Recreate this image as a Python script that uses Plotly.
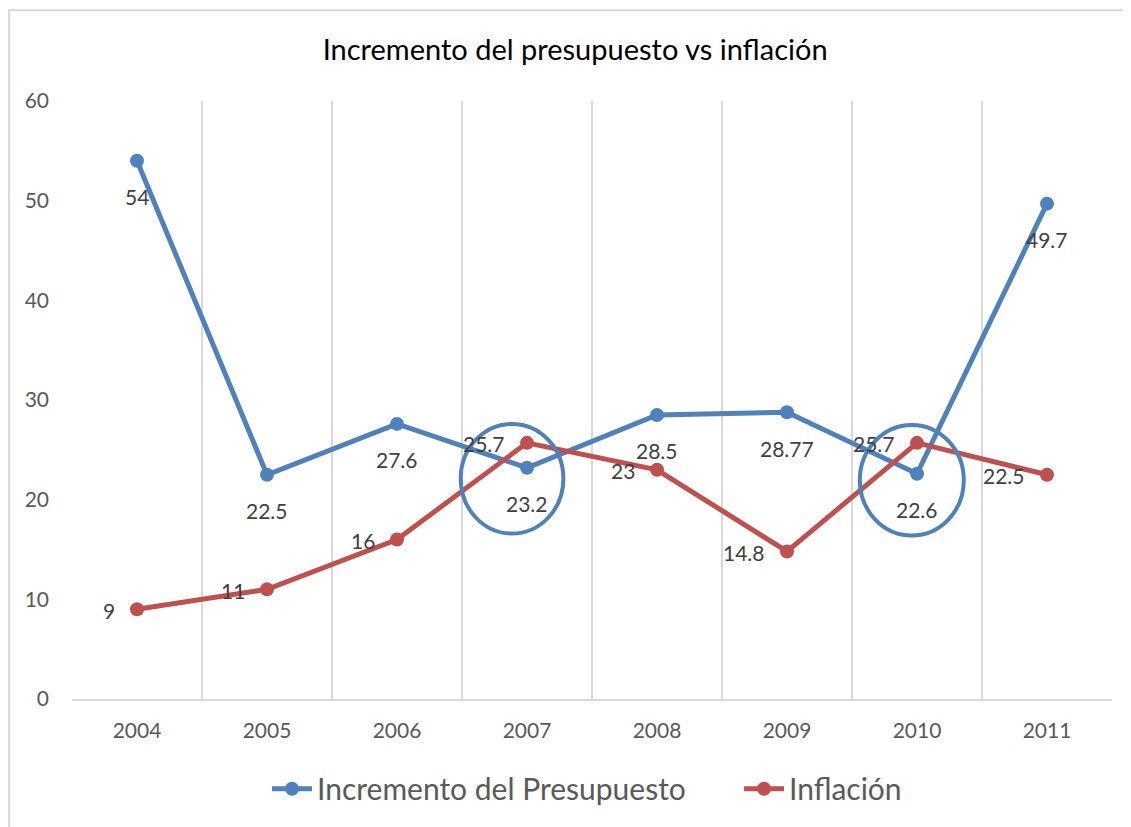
import plotly.graph_objects as go

years = ["2004", "2005", "2006", "2007", "2008", "2009", "2010", "2011"]
presupuesto = [54, 22.5, 27.6, 23.2, 28.5, 28.77, 22.6, 49.7]
inflacion = [9, 11, 16, 25.7, 23, 14.8, 25.7, 22.5]
pres_labels = ["54", "22.5", "27.6", "23.2", "28.5", "28.77", "22.6", "49.7"]
infl_labels = ["9", "11", "16", "25.7", "23", "14.8", "25.7", "22.5"]

BLUE = "#4F81BD"
RED = "#C0504D"
FONT = "Lato, 'Open Sans', sans-serif"

fig = go.Figure()
fig.add_trace(go.Scatter(
    x=years, y=presupuesto, mode="lines+markers", name="Incremento del Presupuesto",
    line=dict(color=BLUE, width=5), marker=dict(size=14, color=BLUE), legend="legend"))
fig.add_trace(go.Scatter(
    x=years, y=inflacion, mode="lines+markers", name="Inflación",
    line=dict(color=RED, width=5), marker=dict(size=14, color=RED), legend="legend2"))

annotations = []
for i, (y, t) in enumerate(zip(presupuesto, pres_labels)):
    annotations.append(dict(x=i, y=y, xref="x", yref="y", text=t, showarrow=False, yshift=-36,
                            xanchor="center", yanchor="middle",
                            font=dict(size=21, color="#404040", family=FONT)))
for i, (y, t) in enumerate(zip(inflacion, infl_labels)):
    annotations.append(dict(x=i, y=y, xref="x", yref="y", text=t, showarrow=False, xshift=-20, yshift=-1,
                            xanchor="right", yanchor="middle",
                            font=dict(size=21, color="#404040", family=FONT)))

shapes = [
    dict(type="circle", xref="x", yref="y", x0=2.49, x1=3.28, y0=16.6, y1=27.6,
         line=dict(color=BLUE, width=4)),
    dict(type="circle", xref="x", yref="y", x0=5.56, x1=6.36, y0=16.4, y1=27.5,
         line=dict(color=BLUE, width=4)),
    dict(type="rect", xref="paper", yref="paper", x0=-0.0605, x1=1.04, y0=-0.25, y1=1.1517,
         line=dict(color="#d9d9d9", width=2), layer="below"),
]

legend_font = dict(size=30, color="#595959", family=FONT)

fig.update_layout(
    width=1123, height=819, autosize=False,
    margin=dict(l=64, r=19, t=93, b=126),
    paper_bgcolor="white", plot_bgcolor="white",
    font=dict(family=FONT, color="#595959"),
    title=dict(text="Incremento del presupuesto vs inflación", x=0.505, xanchor="center",
               y=1 - 42 / 819, yanchor="middle",
               font=dict(size=29, color="#000000", family=FONT)),
    xaxis=dict(type="category", range=[-0.5, 7.5], tickson="boundaries",
               showgrid=True, gridcolor="#d9d9d9", gridwidth=1.5,
               showline=True, linecolor="#d9d9d9", linewidth=1.5,
               ticks="", ticklabelstandoff=12,
               tickfont=dict(size=21, color="#595959"), zeroline=False),
    yaxis=dict(range=[0, 60], dtick=10, showgrid=False, zeroline=False,
               showline=False, ticks="", ticklabelstandoff=22,
               tickfont=dict(size=21, color="#595959")),
    legend=dict(orientation="h", x=0.1875, xanchor="left", y=-0.15, yanchor="middle",
                font=legend_font, itemwidth=40),
    legend2=dict(orientation="h", x=0.6414, xanchor="left", y=-0.15, yanchor="middle",
                 font=legend_font, itemwidth=40),
    showlegend=True,
    annotations=annotations,
    shapes=shapes,
)

fig.write_html("out.html")
